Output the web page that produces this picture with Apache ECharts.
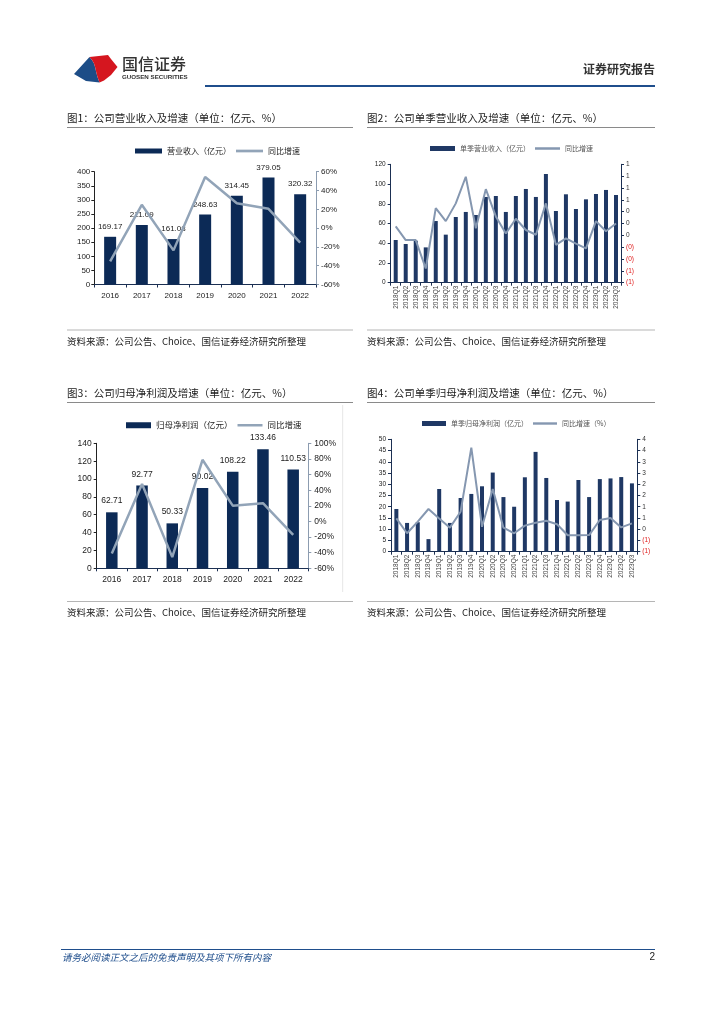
<!DOCTYPE html>
<html><head><meta charset="utf-8">
<script src="https://cdn.jsdelivr.net/npm/echarts@6/dist/echarts.min.js"></script>
<style>html,body{margin:0;padding:0;background:#fff}#c{width:724px;height:1024px}</style>
</head><body><div id="c"></div>
<script>
// ---------- data ----------
const years = ['2016','2017','2018','2019','2020','2021','2022'];
const revenue = [169.17, 211.09, 161.08, 248.63, 314.45, 379.05, 320.32];
const revenueYoY = [-35.3, 24.8, -23.7, 54.4, 26.5, 20.5, -15.5];
const netProfit = [62.71, 92.77, 50.33, 90.02, 108.22, 133.46, 110.53];
const netProfitYoY = [-41.0, 47.9, -45.7, 78.9, 20.2, 23.3, -17.2];
const quarters = ['2018Q1','2018Q2','2018Q3','2018Q4','2019Q1','2019Q2','2019Q3','2019Q4',
  '2020Q1','2020Q2','2020Q3','2020Q4','2021Q1','2021Q2','2021Q3','2021Q4',
  '2022Q1','2022Q2','2022Q3','2022Q4','2023Q1','2023Q2','2023Q3'];
const qRevenue = [43.3, 39.2, 42.6, 35.8, 62.5, 48.7, 66.6, 71.7, 68.6, 86.9, 87.9, 71.7,
  87.9, 95.0, 86.9, 110.2, 72.7, 89.6, 74.7, 84.5, 89.9, 94.0, 88.9];
const qRevenueYoY = [0.15, -0.08, -0.08, -0.56, 0.46, 0.24, 0.54, 0.99, 0.12, 0.78, 0.32, 0.03,
  0.28, 0.09, 0.01, 0.54, -0.16, -0.05, -0.14, -0.22, 0.24, 0.07, 0.20];
const qProfit = [19.0, 12.8, 13.1, 5.6, 27.9, 12.8, 23.9, 25.7, 29.1, 35.2, 24.3, 20.0,
  33.1, 44.4, 32.8, 23.0, 22.3, 31.9, 24.3, 32.3, 32.6, 33.2, 30.4];
const qProfitYoY = [0.48, -0.18, 0.34, 0.90, 0.48, 0.07, 0.78, 3.63, 0.11, 1.79, 0.07, -0.18,
  0.16, 0.29, 0.38, 0.22, -0.27, -0.27, -0.26, 0.41, 0.50, 0.08, 0.26];

// ---------- styles ----------
const NUM = '"Liberation Sans", Arial, "Noto Sans CJK SC", sans-serif';
const CJK = '"Noto Sans CJK SC", sans-serif';
const BAR1 = '#0c2a56', BAR2 = '#1f3864', LINE1 = '#92a4b8', LINE2 = '#8597b0';
const lineIcon = 'path://M0,0L30,0L30,3L0,3Z';

function parenFmt(v){ v = +v; if (v < -1e-9) return '(' + Math.round(Math.abs(v)) + ')'; return String(Math.round(v)); }
function parenColor(v){ return (+v) < -1e-9 ? '#e02020' : '#333'; }

function catAxis(grid, data, o){
  return Object.assign({
    type:'category', gridIndex:grid, data:data, boundaryGap:true,
    axisLine:{show:true, lineStyle:{color:'#1b2f52', width:1}},
    axisTick:{show:true, alignWithLabel:false, length:3, lineStyle:{color:'#1b2f52'}},
    axisLabel:{fontFamily:NUM, color:'#222'},
    splitLine:{show:false}
  }, o);
}
function valAxis(grid, o, lab, lineColor){
  return Object.assign({
    type:'value', gridIndex:grid, splitLine:{show:false},
    axisLine:{show:true, lineStyle:{color:lineColor||'#1b2f52', width:1}},
    axisTick:{show:true, length:3, lineStyle:{color:lineColor||'#1b2f52'}},
    axisLabel:Object.assign({fontFamily:NUM, color:'#222', margin:5}, lab)
  }, o);
}

const option = {
  animation:false,
  backgroundColor:'#fff',
  grid:[
    {left:94.3, right:724-316, top:171.7, bottom:1024-284.5, outerBoundsMode:'none'},
    {left:390.7, right:724-621, top:164.3, bottom:1024-282.7, outerBoundsMode:'none'},
    {left:96.7, right:724-308.3, top:443.3, bottom:1024-568.3, outerBoundsMode:'none'},
    {left:391, right:724-637.3, top:439.3, bottom:1024-551.7, outerBoundsMode:'none'}
  ],
  legend:[
    {left:130, top:142, itemWidth:27, itemHeight:5, itemGap:5, selectedMode:false,
     textStyle:{fontFamily:CJK, fontSize:8, color:'#222'},
     data:[{name:'营业收入（亿元）', icon:'rect'},{name:'同比增速', icon:lineIcon}]},
    {left:425, top:140, itemWidth:25, itemHeight:5, itemGap:5, selectedMode:false,
     textStyle:{fontFamily:CJK, fontSize:7, color:'#555'},
     data:[{name:'单季营业收入（亿元）', icon:'rect'},{name:'同比增速 ', icon:lineIcon}]},
    {left:121, top:416, itemWidth:25, itemHeight:6, itemGap:5, selectedMode:false,
     textStyle:{fontFamily:CJK, fontSize:8.5, color:'#222'},
     data:[{name:'归母净利润（亿元）', icon:'rect'},{name:'同比增速  ', icon:lineIcon}]},
    {left:417, top:415, itemWidth:24, itemHeight:5, itemGap:5, selectedMode:false,
     textStyle:{fontFamily:CJK, fontSize:7, color:'#555'},
     data:[{name:'单季归母净利润（亿元）', icon:'rect'},{name:'同比增速（%）', icon:lineIcon}]}
  ],
  xAxis:[
    catAxis(0, years, {axisLabel:{fontFamily:NUM, fontSize:8, color:'#222', margin:7}}),
    catAxis(1, quarters, {axisLabel:{fontFamily:NUM, fontSize:6.5, color:'#444', rotate:90, margin:3, interval:0}}),
    catAxis(2, years, {axisLabel:{fontFamily:NUM, fontSize:8.5, color:'#222', margin:7}}),
    catAxis(3, quarters, {axisLabel:{fontFamily:NUM, fontSize:6.5, color:'#444', rotate:90, margin:3, interval:0}})
  ],
  yAxis:[
    valAxis(0, {min:0, max:400, interval:50, position:'left'}, {fontSize:8, margin:4}, '#222'),
    valAxis(0, {min:-60, max:60, interval:20, position:'right'}, {fontSize:8, margin:5, formatter:'{value}%'}, '#8c9cb0'),
    valAxis(1, {min:0, max:120, interval:20, position:'left'}, {fontSize:6.5, margin:5}),
    valAxis(1, {min:-0.8, max:1.2, interval:0.2, position:'right'}, {fontSize:6.5, margin:5, formatter:parenFmt, color:parenColor}),
    valAxis(2, {min:0, max:140, interval:20, position:'left'}, {fontSize:8.5, margin:5}, '#222'),
    valAxis(2, {min:-60, max:100, interval:20, position:'right'}, {fontSize:8.5, margin:6, formatter:'{value}%'}, '#8c9cb0'),
    valAxis(3, {min:0, max:50, interval:5, position:'left'}, {fontSize:6.5, margin:5}),
    valAxis(3, {min:-1, max:4, interval:0.5, position:'right'}, {fontSize:6.5, margin:5, formatter:parenFmt, color:parenColor})
  ],
  series:[
    {name:'营业收入（亿元）', type:'bar', xAxisIndex:0, yAxisIndex:0, data:revenue, barWidth:12,
     itemStyle:{color:BAR1},
     label:{show:true, position:'top', distance:6, fontFamily:NUM, fontSize:8, color:'#222',
            formatter:p=>p.value.toFixed(2)}},
    {name:'同比增速', type:'line', xAxisIndex:0, yAxisIndex:1, data:revenueYoY, symbol:'none',
     lineStyle:{color:LINE1, width:2.5}, itemStyle:{color:LINE1}},
    {name:'单季营业收入（亿元）', type:'bar', xAxisIndex:1, yAxisIndex:2, data:qRevenue, barWidth:4,
     itemStyle:{color:BAR2}},
    {name:'同比增速 ', type:'line', xAxisIndex:1, yAxisIndex:3, data:qRevenueYoY, symbol:'none',
     lineStyle:{color:LINE2, width:2}, itemStyle:{color:LINE2}},
    {name:'归母净利润（亿元）', type:'bar', xAxisIndex:2, yAxisIndex:4, data:netProfit, barWidth:11.5,
     itemStyle:{color:BAR1},
     label:{show:true, position:'top', distance:7, fontFamily:NUM, fontSize:8.5, color:'#222',
            formatter:p=>p.value.toFixed(2)}},
    {name:'同比增速  ', type:'line', xAxisIndex:2, yAxisIndex:5, data:netProfitYoY, symbol:'none',
     lineStyle:{color:LINE1, width:2.5}, itemStyle:{color:LINE1}},
    {name:'单季归母净利润（亿元）', type:'bar', xAxisIndex:3, yAxisIndex:6, data:qProfit, barWidth:4,
     itemStyle:{color:BAR2}},
    {name:'同比增速（%）', type:'line', xAxisIndex:3, yAxisIndex:7, data:qProfitYoY, symbol:'none',
     lineStyle:{color:LINE2, width:2}, itemStyle:{color:LINE2}}
  ],
  graphic:[]
};

// ---------- page furniture ----------
const G = option.graphic;
function txt(x, y, s, size, color, opts){
  G.push(Object.assign({type:'text', x:x, y:y, silent:true,
    style:Object.assign({text:s, font:size+'px '+CJK, fill:color||'#222',
      textAlign:'left', textVerticalAlign:'middle', align:'left', verticalAlign:'middle'}, opts||{})}));
}
function hline(x1, x2, y, color, w){
  G.push({type:'line', silent:true, shape:{x1:x1, y1:y, x2:x2, y2:y}, style:{stroke:color, lineWidth:w}});
}
// header logo
G.push({type:'polygon', silent:true, shape:{points:[[74,74],[89.5,57],[92,60],[94,63.5],[95.2,67.5],[96.2,72],[97.5,77],[99.5,82.5],[86,81]]},
  style:{fill:'#1d4d87'}});
G.push({type:'polygon', silent:true, shape:{points:[[89.5,57],[108,55],[111,59],[117.5,67],[111,75],[104,80.5],[99.5,82.5],[97.5,77],[96.2,72],[95.2,67.5],[94,63.5],[92,60]]},
  style:{fill:'#d5161f'}});
txt(122, 64, '国信证券', 16, '#333', {font:'500 16px '+CJK});
txt(122, 77.5, 'GUOSEN SECURITIES', 6.2, '#333', {font:'bold 6.2px '+NUM});
txt(655, 69, '证券研究报告', 12, '#333', {textAlign:'right', align:'right', font:'bold 12px '+CJK});
hline(205, 655, 86, '#1f4e8c', 2);

// titles
const titleFont = '10.5px ' + CJK;
txt(67, 118, '图1：公司营业收入及增速（单位：亿元、%）', 10.5, '#1a1a1a', {font:titleFont});
txt(367, 118, '图2：公司单季营业收入及增速（单位：亿元、%）', 10.5, '#1a1a1a', {font:titleFont});
txt(67, 393, '图3：公司归母净利润及增速（单位：亿元、%）', 10.5, '#1a1a1a', {font:titleFont});
txt(367, 393, '图4：公司单季归母净利润及增速（单位：亿元、%）', 10.5, '#1a1a1a', {font:titleFont});
hline(67, 353, 127.5, '#8a8a8a', 1.2);
hline(367, 655, 127.5, '#8a8a8a', 1.2);
hline(67, 353, 402.5, '#8a8a8a', 1.2);
hline(367, 655, 402.5, '#8a8a8a', 1.2);

// source lines
hline(67, 353, 330, '#b5b5b5', 1);
hline(367, 655, 330, '#b5b5b5', 1);
hline(67, 353, 601.5, '#b5b5b5', 1);
hline(367, 655, 601.5, '#b5b5b5', 1);
const src = '资料来源：公司公告、Choice、国信证券经济研究所整理';
txt(67, 341.5, src, 9.5, '#222');
txt(367, 341.5, src, 9.5, '#222');
txt(67, 612, src, 9.5, '#222');
txt(367, 612, src, 9.5, '#222');
// light frame edge on figure 3
G.push({type:'line', silent:true, shape:{x1:342.7, y1:405, x2:342.7, y2:592}, style:{stroke:'#e6e6e6', lineWidth:1}});

// footer
hline(61, 655, 949.5, '#1f4e8c', 1);
txt(62, 957.5, '请务必阅读正文之后的免责声明及其项下所有内容', 9.5, '#1f4e8c', {font:'italic 9.5px '+CJK});
txt(655, 957.5, '2', 10, '#222', {textAlign:'right', align:'right', font:'10px '+NUM});

const chart = echarts.init(document.getElementById('c'), null, {renderer:'canvas'});
chart.setOption(option);
</script>
</body></html>
